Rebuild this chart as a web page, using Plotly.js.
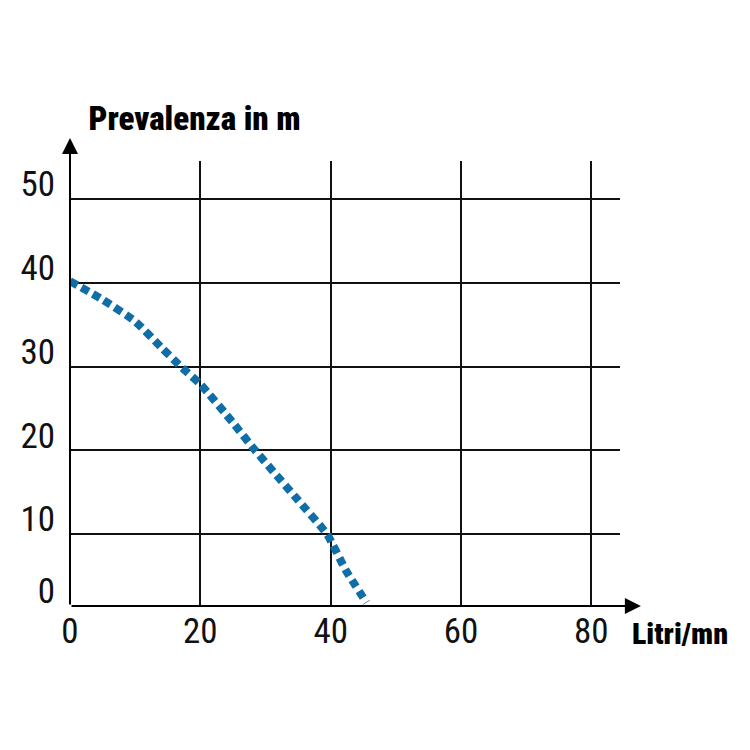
<!DOCTYPE html>
<html>
<head>
<meta charset="utf-8">
<script src="https://cdn.plot.ly/plotly-3.0.1.min.js"></script>
<style>html,body{margin:0;padding:0;background:#fff;}#chart{width:750px;height:750px;}</style>
</head>
<body>
<div id="chart"></div>
<script>
// Data
const flowLpm = [0, 5, 10, 14, 17, 20, 25, 28.4, 34.6, 39.5, 42.3, 45.5];
const headM   = [40.2, 38.0, 35.4, 32.3, 30.0, 27.9, 23.3, 20.0, 14.4, 9.9, 5.7, 1.8];

const xTickVals = [0, 20, 40, 60, 80];
const xTickText = ['0', '20', '40', '60', '80'];
const yTickVals = [1.4, 10, 20, 30, 40, 50];
const yTickText = ['0', '10', '20', '30', '40', '50'];

const yTitle = 'Prevalenza in m';
const xTitle = 'Litri/mn';

const narrow = '"Liberation Sans Narrow", "Roboto Condensed", "DejaVu Sans Condensed", Roboto, sans-serif';

const trace = {
  x: flowLpm,
  y: headM,
  mode: 'lines',
  type: 'scatter',
  line: {color: '#0f6ea8', width: 8, dash: '8px,5px', shape: 'spline', smoothing: 0.5},
  hoverinfo: 'skip',
  cliponaxis: false
};

const xr = [0, 84.4];
const yr = [1.4, 54.56];

const layout = {
  width: 750, height: 750,
  margin: {l: 70, r: 130, t: 161, b: 144},
  paper_bgcolor: '#ffffff',
  plot_bgcolor: '#ffffff',
  showlegend: false,
  title: {
    text: yTitle,
    x: 0.118, xanchor: 'left', xref: 'container',
    y: 0.842, yanchor: 'middle', yref: 'container',
    font: {family: narrow, size: 33, color: '#000', weight: 900}
  },
  xaxis: {
    range: xr, fixedrange: true,
    tickvals: xTickVals, ticktext: xTickText,
    showgrid: true, gridcolor: '#111', gridwidth: 2,
    zeroline: false, showline: false,
    ticks: '', ticklabelstandoff: 1,
    tickfont: {family: narrow, size: 35, color: '#111'}
  },
  yaxis: {
    range: yr, fixedrange: true,
    tickvals: yTickVals, ticktext: yTickText,
    showgrid: true, gridcolor: '#111', gridwidth: 2,
    zeroline: false, showline: false,
    ticks: '', ticklabelstandoff: 14, ticklabelshift: -15,
    tickfont: {family: narrow, size: 35, color: '#111'}
  },
  annotations: [
    { // x axis with arrow
      x: 87.6, y: yr[0], xref: 'x', yref: 'y',
      ax: 0, ay: yr[0], axref: 'x', ayref: 'y',
      showarrow: true, arrowhead: 2, arrowsize: 1.6, arrowwidth: 2, arrowcolor: '#000', text: ''
    },
    { // y axis with arrow
      x: 0, y: 57.3, xref: 'x', yref: 'y',
      ax: 0, ay: yr[0], axref: 'x', ayref: 'y',
      showarrow: true, arrowhead: 2, arrowsize: 1.6, arrowwidth: 2, arrowcolor: '#000', text: ''
    },
    {
      text: xTitle,
      x: 1.018, xref: 'paper', xanchor: 'left',
      y: -0.061, yref: 'paper', yanchor: 'middle',
      showarrow: false,
      font: {family: narrow, size: 30, color: '#000', weight: 900}
    }
  ]
};

Plotly.newPlot('chart', [trace], layout, {staticPlot: true, displayModeBar: false});
</script>
</body>
</html>
